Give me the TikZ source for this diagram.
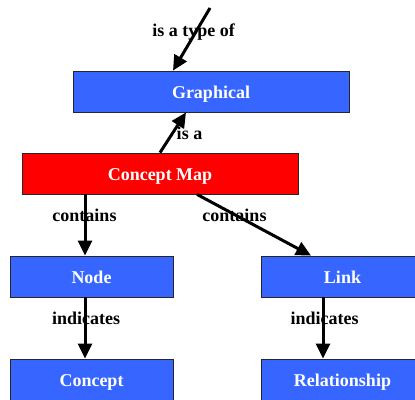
\documentclass[tikz,border=0pt]{standalone}
\usepackage{fontspec}
\setmainfont{Liberation Serif}
\usetikzlibrary{arrows.meta}
\definecolor{boxblue}{HTML}{3666FF}
\definecolor{boxred}{HTML}{FF0000}
\begin{document}
\begin{tikzpicture}[x=1pt,y=-1pt,
  box/.style={draw=black!85, line width=0.8pt, inner sep=0pt,
    minimum height=41pt, text height=14pt, text depth=0pt,
    text=white, font=\bfseries\fontsize{18}{20}\selectfont},
  wide/.style={box, minimum width=276pt},
  narrow/.style={box, minimum width=163pt},
  rel/.style={line width=3pt, -{Triangle[length=15pt,width=14pt]}},
  lbl/.style={font=\bfseries\fontsize{18}{20}\selectfont, text=black,
    inner sep=0pt, anchor=base}]
  \useasboundingbox (0,0) rectangle (415,399);
  % concept boxes
  \node[wide, fill=boxblue] (graphical) at (211,91.5) {Graphical};
  \node[wide, fill=boxred] (cmap) at (160,173.5) {Concept Map};
  \node[narrow, fill=boxblue] (node) at (91.5,276.5) {Node};
  \node[narrow, fill=boxblue] (link) at (342.5,276.5) {Link};
  \node[narrow, fill=boxblue] (concept) at (91.5,379.5) {Concept};
  \node[narrow, fill=boxblue] (relation) at (342.5,379.5) {Relationship};
  \coordinate (above) at (210,8);
  % relations
  \draw[rel] (above) -- ([xshift=-38pt]graphical.north);
  \draw[rel] (cmap.north) -- ([xshift=-25pt]graphical.south);
  \draw[rel] ([xshift=-75pt]cmap.south) -- ([xshift=-6.5pt]node.north);
  \draw[rel] ([xshift=37pt]cmap.south) -- ([xshift=-31.5pt]link.north);
  \draw[rel] ([xshift=-6.5pt]node.south) -- ([xshift=-6.5pt]concept.north);
  \draw[rel] ([xshift=-19.5pt]link.south) -- ([xshift=-19.5pt]relation.north);
  % relation labels
  \node[lbl] (l1) at (193.5,36) {is a type of};
  \node[lbl] (l2) at (189.5,139) {is a};
  \node[lbl] (l3) at (84.5,221.5) {contains};
  \node[lbl] (l4) at (234.5,221.5) {contains};
  \node[lbl] (l5) at (86,324.5) {indicates};
  \node[lbl] (l6) at (324.5,324.5) {indicates};
\end{tikzpicture}
\end{document}
